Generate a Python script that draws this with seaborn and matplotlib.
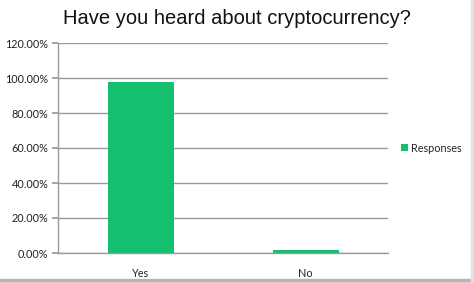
import matplotlib
matplotlib.use("Agg")
import matplotlib.pyplot as plt
import seaborn as sns
import pandas as pd
from matplotlib.ticker import FuncFormatter, FixedLocator
from matplotlib.patches import Rectangle

categories = ["Yes", "No"]
responses = [98.0, 2.0]
series_name = "Responses"
y_ticks = [0, 20, 40, 60, 80, 100, 120]

sns.set_theme(style="white")
plt.rcParams['font.family'] = ['Lato', 'DejaVu Sans']

df = pd.DataFrame({"category": categories, "value": responses, "series": series_name})

fig = plt.figure(figsize=(4.74, 2.82), dpi=100)
fig.patch.set_facecolor("white")
ax = fig.add_axes([58/474, 29/282, 330/474, 210/282])

green = "#14c06f"
sns.barplot(data=df, x="category", y="value", hue="series", palette=[green],
            width=0.4, ax=ax, legend=True, saturation=1, linewidth=0)

ax.set_ylim(0, 120)
ax.set_xlim(-0.5, 1.5)
ax.yaxis.set_major_locator(FixedLocator(y_ticks))
ax.yaxis.set_major_formatter(FuncFormatter(lambda v, p: f"{v:.2f}%"))
ax.grid(axis="y", color="#9a9a9a", linewidth=1)
ax.set_axisbelow(True)
for s in ["top", "right"]:
    ax.spines[s].set_visible(False)
ax.spines["left"].set_color("#9a9a9a")
ax.spines["bottom"].set_color("#9a9a9a")
ax.spines["left"].set_linewidth(1)
ax.spines["bottom"].set_linewidth(1)
ax.tick_params(axis="y", left=True, length=4, color="#9a9a9a", labelsize=7.8, pad=3, labelcolor="#222222")
ax.tick_params(axis="x", bottom=False, labelsize=7.8, pad=5, labelcolor="#222222")
ax.set_xlabel("")
ax.set_ylabel("")

leg = ax.legend(loc="center left", bbox_to_anchor=(1.01, 0.5), frameon=False,
                fontsize=7.8, handlelength=0.6, handleheight=0.6, handletextpad=0.3)

fig.text(237/474, 1 - 19/282, "Have you heard about cryptocurrency?",
         ha="center", va="center", fontsize=14.5, family="Liberation Sans", color="#111111")

# screenshot edge borders
fig.patches.append(Rectangle((0, 0), 1, 3/282, transform=fig.transFigure, color="#b5b5b5", zorder=10))
fig.patches.append(Rectangle((1 - 3/474, 0), 3/474, 1, transform=fig.transFigure, color="#e2e2e2", zorder=10))

fig.savefig("out.png", dpi=100)
